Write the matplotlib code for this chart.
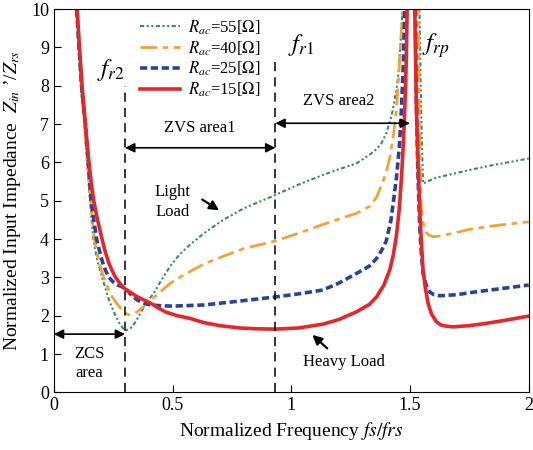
import numpy as np
import matplotlib.pyplot as plt

plt.rcParams['font.family'] = ['Liberation Serif', 'DejaVu Serif']
plt.rcParams['mathtext.fontset'] = 'stix'

# normalized frequency / impedance, one set per load
x_55 = [0.086, 0.094, 0.104, 0.113, 0.12, 0.128, 0.134, 0.14, 0.146, 0.152, 0.159, 0.166,
        0.175, 0.185, 0.203, 0.218, 0.232, 0.246, 0.26, 0.275, 0.29, 0.302, 0.315, 0.33,
        0.35, 0.372, 0.395, 0.421, 0.455, 0.491, 0.53, 0.573, 0.632, 0.713, 0.8, 0.933,
        1.03, 1.133, 1.2, 1.274, 1.33, 1.36, 1.38, 1.40, 1.415, 1.428, 1.44, 1.45,
        1.458, 1.464, 1.47, 1.50, 1.54, 1.545, 1.55, 1.555, 1.58, 1.611, 1.68, 1.75,
        1.85, 2.0]
y_55 = [11, 10, 9, 8, 7.5, 7, 6.5, 6, 5.5, 5, 4.5, 4,
        3.7, 3.4, 3.0, 2.7, 2.41, 2.2, 2.0, 1.82, 1.68, 1.62, 1.64, 1.71,
        1.9, 2.15, 2.38, 2.59, 2.95, 3.3, 3.6, 3.85, 4.15, 4.5, 4.8, 5.15,
        5.42, 5.67, 5.82, 5.97, 6.2, 6.35, 6.5, 6.76, 7.05, 7.37, 7.8, 8.23,
        8.9, 9.54, 10, 20, 10, 8, 6.5, 5.45, 5.52, 5.6, 5.7, 5.8,
        5.93, 6.1]

x_40 = [0.088, 0.095, 0.105, 0.115, 0.122, 0.13, 0.136, 0.142, 0.148, 0.155, 0.162, 0.171,
        0.18, 0.19, 0.21, 0.228, 0.246, 0.265, 0.281, 0.296, 0.309, 0.32, 0.33, 0.351,
        0.378, 0.407, 0.45, 0.491, 0.53, 0.573, 0.632, 0.713, 0.8, 0.933, 1.03, 1.133,
        1.2, 1.274, 1.33, 1.36, 1.386, 1.40, 1.414, 1.43, 1.443, 1.452, 1.46, 1.47,
        1.50, 1.535, 1.538, 1.541, 1.545, 1.548, 1.555, 1.562, 1.575, 1.597, 1.63, 1.68,
        1.75, 1.82, 1.9, 2.0]
y_40 = [11, 10, 9, 8, 7.5, 7, 6.5, 6, 5.5, 5, 4.5, 4,
        3.7, 3.4, 3.0, 2.72, 2.49, 2.32, 2.2, 2.1, 2.04, 2.02, 2.03, 2.1,
        2.24, 2.4, 2.63, 2.85, 3.0, 3.15, 3.35, 3.55, 3.75, 3.95, 4.15, 4.38,
        4.52, 4.67, 4.85, 5.1, 5.5, 5.75, 6.1, 6.7, 7.4, 8.2, 9.1, 10,
        20, 10, 8, 6.5, 5.4, 4.8, 4.45, 4.23, 4.12, 4.06, 4.08, 4.15,
        4.25, 4.32, 4.38, 4.45]

x_25 = [0.088, 0.096, 0.106, 0.117, 0.125, 0.133, 0.139, 0.145, 0.151, 0.157, 0.168, 0.18,
        0.192, 0.205, 0.218, 0.232, 0.25, 0.27, 0.30, 0.325, 0.351, 0.38, 0.407, 0.45,
        0.5, 0.632, 0.78, 0.933, 1.03, 1.133, 1.2, 1.274, 1.33, 1.36, 1.38, 1.40,
        1.42, 1.443, 1.455, 1.464, 1.472, 1.478, 1.50, 1.522, 1.527, 1.532, 1.537, 1.541,
        1.548, 1.555, 1.568, 1.583, 1.6, 1.625, 1.7, 1.75, 1.85, 2.0]
y_25 = [11, 10, 9, 8, 7.5, 7, 6.5, 6, 5.5, 5, 4.5, 4,
        3.7, 3.4, 3.18, 3.0, 2.88, 2.8, 2.72, 2.55, 2.41, 2.33, 2.28, 2.26,
        2.25, 2.28, 2.38, 2.49, 2.57, 2.67, 2.85, 3.1, 3.3, 3.5, 3.7, 3.95,
        4.5, 5.6, 6.4, 7.4, 8.6, 10, 20, 10, 7.5, 6.0, 5.0, 4.3,
        3.6, 3.1, 2.8, 2.62, 2.55, 2.52, 2.55, 2.6, 2.68, 2.8]

x_15 = [0.09, 0.098, 0.108, 0.119, 0.126, 0.133, 0.14, 0.148, 0.157, 0.168, 0.184, 0.203,
        0.215, 0.23, 0.245, 0.26, 0.28, 0.30, 0.325, 0.35, 0.38, 0.407, 0.44, 0.47,
        0.52, 0.573, 0.632, 0.70, 0.783, 0.85, 0.933, 1.03, 1.133, 1.2, 1.274, 1.33,
        1.36, 1.39, 1.415, 1.43, 1.443, 1.455, 1.464, 1.472, 1.478, 1.484, 1.488, 1.50,
        1.52, 1.524, 1.527, 1.534, 1.541, 1.548, 1.555, 1.565, 1.576, 1.59, 1.611, 1.63,
        1.65, 1.68, 1.75, 1.82, 1.9, 2.0]
y_15 = [11, 10, 9, 8, 7.5, 7, 6.5, 6, 5.5, 5, 4.5, 4,
        3.7, 3.4, 3.18, 3.0, 2.83, 2.7, 2.6, 2.5, 2.41, 2.33, 2.2, 2.1,
        2.0, 1.93, 1.82, 1.74, 1.68, 1.66, 1.65, 1.68, 1.78, 1.9, 2.1, 2.3,
        2.5, 2.8, 3.2, 3.6, 4.1, 4.8, 5.6, 6.5, 7.4, 8.6, 10, 20,
        10, 8.5, 7.4, 6.0, 4.76, 3.9, 3.19, 2.7, 2.33, 2.05, 1.84, 1.76,
        1.73, 1.71, 1.74, 1.8, 1.88, 1.99]

labels = [r'$R_{ac}$=55[$\Omega$]', r'$R_{ac}$=40[$\Omega$]',
          r'$R_{ac}$=25[$\Omega$]', r'$R_{ac}$=15[$\Omega$]']

fr2 = 0.30
fr1 = 0.933
frp = 1.5

fig = plt.figure(figsize=(5.33, 4.5), dpi=100)
ax = fig.add_axes([0.101, 0.128, 0.891, 0.852])

ax.plot(x_55, y_55, color='#3a8a5a', lw=1.5, ls=(0, (2, 1.2, 1, 1.2, 1, 1.2)), label=labels[0])
ax.plot(x_40, y_40, color='#f2a23a', lw=2.0, ls=(0, (6, 2, 2, 2)), label=labels[1])
ax.plot(x_25, y_25, color='#26449e', lw=2.6, ls=(0, (2, 1)), label=labels[2])
ax.plot(x_15, y_15, color='#e5262b', lw=2.6, ls='-', label=labels[3])

# resonance markers
ax.plot([fr2, fr2], [0, 8.0], color='black', lw=1.1, ls=(0, (6, 4)))
ax.plot([fr1, fr1], [0, 8.7], color='black', lw=1.1, ls=(0, (6, 4)))
ax.text(0.24, 8.4, r'$f_{r2}$', fontsize=18, ha='center', va='center')
ax.text(1.04, 9.05, r'$f_{r1}$', fontsize=18, ha='center', va='center')
ax.text(1.61, 9.05, r'$f_{rp}$', fontsize=18, ha='center', va='center')

arr = dict(arrowstyle='<|-|>', color='black', lw=1.2, mutation_scale=14, shrinkA=0, shrinkB=0)
ax.annotate('', xy=(fr2, 6.38), xytext=(fr1, 6.38), arrowprops=arr)
ax.text(0.615, 6.9, 'ZVS area1', fontsize=12, ha='center', va='center')
ax.annotate('', xy=(fr1, 7.02), xytext=(frp, 7.02), arrowprops=arr)
ax.text(1.2, 7.6, 'ZVS area2', fontsize=12, ha='center', va='center')
ax.annotate('', xy=(0, 1.52), xytext=(fr2, 1.52), arrowprops=arr)
ax.text(0.15, 0.75, 'ZCS\narea', fontsize=12, ha='center', va='center', linespacing=1.2)

ax.annotate('', xy=(0.706, 4.71), xytext=(0.615, 5.07),
            arrowprops=dict(arrowstyle='-|>', color='black', lw=1.6, mutation_scale=14))
ax.text(0.5, 4.97, 'Light\nLoad', fontsize=12, ha='center', va='center', linespacing=1.3)
ax.annotate('', xy=(1.08, 1.55), xytext=(1.16, 1.1),
            arrowprops=dict(arrowstyle='-|>', color='black', lw=1.6, mutation_scale=14))
ax.text(1.22, 0.8, 'Heavy Load', fontsize=12, ha='center', va='center')

ax.set_xlim(0, 2)
ax.set_ylim(0, 10)
ax.set_xticks([0, 0.5, 1, 1.5, 2])
ax.set_xticklabels(['0', '0.5', '1', '1.5', '2'])
ax.set_yticks(range(0, 11))
ax.tick_params(direction='in', labelsize=13, length=5)
ax.set_xlabel('Normalized Frequency $fs/frs$', fontsize=14, labelpad=4)
ax.set_ylabel("Normalized Input Impedance  $Z_{in}$ ’/$Z_{rs}$", fontsize=14, labelpad=6)

ax.legend(loc='upper left', bbox_to_anchor=(0.15, 1.015), frameon=False, fontsize=12,
          handlelength=2.4, labelspacing=0.15, handletextpad=0.5)

fig.savefig('out.png', dpi=100)
